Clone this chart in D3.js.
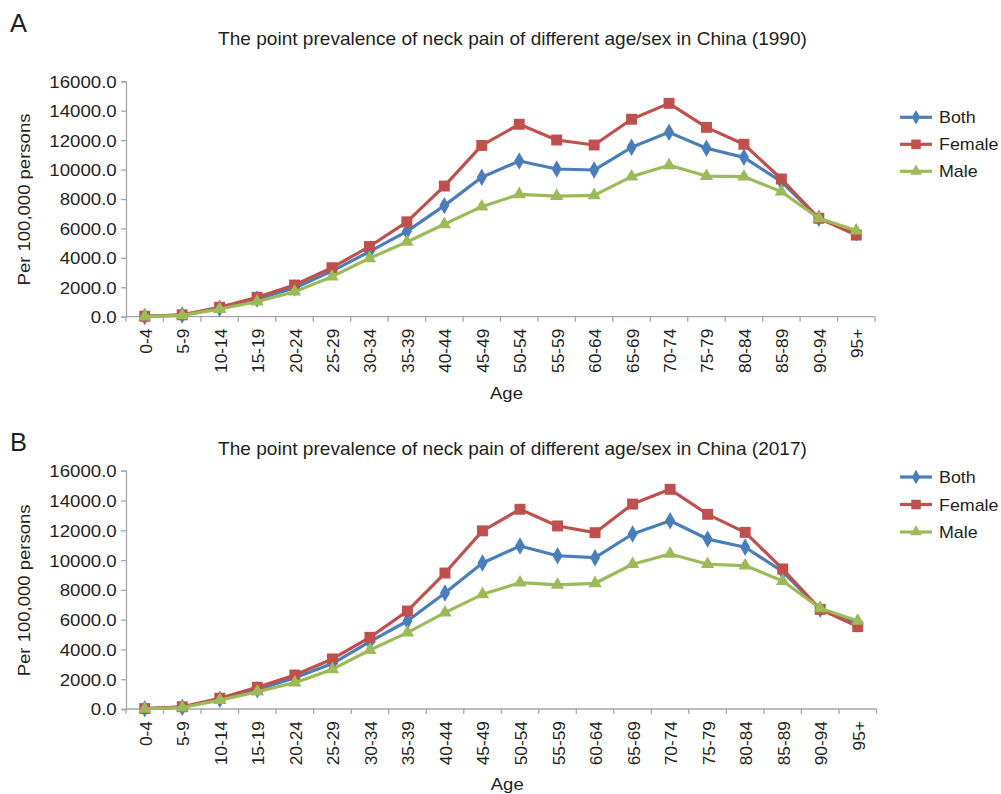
<!DOCTYPE html>
<html>
<head>
<meta charset="utf-8">
<script src="https://cdn.jsdelivr.net/npm/d3@7"></script>
<style>
  html, body { margin: 0; padding: 0; background: #fff; }
  svg text { font-family: "Liberation Sans", Arial, Helvetica, sans-serif; fill: #231f20; }
</style>
</head>
<body>
<svg id="chart" width="1001" height="794"></svg>
<script>
// Age groups (x categories)
const ageGroups = ["0-4","5-9","10-14","15-19","20-24","25-29","30-34","35-39","40-44","45-49",
                   "50-54","55-59","60-64","65-69","70-74","75-79","80-84","85-89","90-94","95+"];

// Point prevalence per 100,000 persons, 1990
const both1990   = [20, 110, 580, 1200, 1950, 3100, 4420, 5800, 7550, 9480, 10580, 10040, 9970, 11510, 12530, 11450, 10830, 9180, 6690, 5710];
const female1990 = [30, 130, 640, 1320, 2150, 3330, 4770, 6450, 8880, 11640, 13080, 12010, 11670, 13420, 14500, 12870, 11720, 9360, 6690, 5550];
const male1990   = [10, 90, 520, 1020, 1700, 2720, 3970, 5080, 6280, 7480, 8320, 8200, 8250, 9520, 10290, 9560, 9520, 8500, 6690, 5850];

// Point prevalence per 100,000 persons, 2017
const both2017   = [20, 120, 650, 1300, 2100, 3050, 4520, 5910, 7790, 9800, 10940, 10290, 10160, 11750, 12640, 11410, 10860, 9220, 6690, 5710];
const female2017 = [30, 150, 720, 1460, 2280, 3360, 4810, 6580, 9130, 11960, 13410, 12290, 11840, 13760, 14750, 13070, 11860, 9400, 6690, 5530];
const male2017   = [10, 100, 600, 1160, 1770, 2660, 3960, 5130, 6470, 7700, 8480, 8330, 8440, 9720, 10410, 9720, 9630, 8590, 6760, 5910];

const yTicks = [0, 2000, 4000, 6000, 8000, 10000, 12000, 14000, 16000];
const seriesNames = ["Both", "Female", "Male"];
const seriesColors = ["#4a7ebb", "#c0504d", "#9bbb59"];
const seriesSymbols = [d3.symbolDiamond, d3.symbolSquare, d3.symbolTriangle];
const symbolSizes = [80, 120, 78];

const svg = d3.select("#chart");
const axisColor = "#a6a6a6";

// text helper: slightly widened glyphs, optional rotation
function addText(g, x, y, str, o) {
  return g.append("text")
    .attr("transform", `translate(${x},${y})${o.rotate ? ` rotate(${o.rotate})` : ""} scale(${o.sx || 1},1)`)
    .attr("text-anchor", o.anchor || "start")
    .style("font-size", o.size + "px")
    .text(str);
}

function drawPanel(opt) {
  const g = svg.append("g");
  const x = d3.scaleBand().domain(ageGroups).range([opt.left, opt.right]);
  const y = d3.scaleLinear().domain([0, 16000]).range([opt.bottom, opt.top]);
  const cx = d => x(d) + x.bandwidth() / 2;

  // panel letter and title
  addText(g, opt.letterX, opt.letterY, opt.letter, { size: 25.5 });
  addText(g, 512.5, opt.titleY, opt.title, { size: 18, sx: 1.06, anchor: "middle" });

  // y axis
  const yAxis = d3.axisLeft(y).tickValues(yTicks).tickSize(5).tickPadding(0)
    .tickFormat(d3.format(".1f"));
  const ya = g.append("g").attr("transform", `translate(${opt.left},0)`).call(yAxis);
  ya.select(".domain").attr("stroke", axisColor).attr("stroke-width", 1.3);
  ya.selectAll(".tick line").attr("stroke", axisColor).attr("stroke-width", 1.3);
  ya.selectAll(".tick text")
    .attr("x", 0).attr("dy", "0.36em")
    .attr("transform", "translate(-9.3,0) scale(1.13,1)")
    .style("font-size", "16.5px").style("font-family", null).attr("fill", "#231f20");

  // x axis with ticks at category boundaries
  const xa = g.append("g").attr("transform", `translate(0,${opt.bottom})`);
  xa.append("line").attr("x1", opt.left).attr("x2", opt.right)
    .attr("stroke", axisColor).attr("stroke-width", 1.3);
  const bounds = ageGroups.map(a => x(a)).concat([opt.right]);
  xa.selectAll("line.tk").data(bounds).join("line").attr("class", "tk")
    .attr("x1", d => d).attr("x2", d => d).attr("y1", 0).attr("y2", 5)
    .attr("stroke", axisColor).attr("stroke-width", 1.3);
  ageGroups.forEach(a => addText(xa, cx(a) + 7, 12, a, { size: 16.5, sx: 1.05, anchor: "end", rotate: -90 }));

  // axis titles
  addText(g, 29.5, (opt.top + opt.bottom) / 2 + 0.5, "Per 100,000 persons", { size: 17, sx: 1.09, anchor: "middle", rotate: -90 });
  addText(g, (opt.left + opt.right) / 2 + 6, opt.xTitleY, "Age", { size: 17, sx: 1.09, anchor: "middle" });

  // series lines and markers
  const line = d3.line().x((d, i) => cx(ageGroups[i])).y(d => y(d));
  opt.series.forEach((vals, si) => {
    g.append("path").datum(vals).attr("d", line).attr("fill", "none")
      .attr("stroke", seriesColors[si]).attr("stroke-width", 3.2).attr("stroke-linejoin", "round");
    g.selectAll(null).data(vals).join("path")
      .attr("d", d3.symbol().type(seriesSymbols[si]).size(symbolSizes[si]))
      .attr("transform", (d, i) => `translate(${cx(ageGroups[i])},${y(d)})${si === 0 ? " scale(1.05,1.05)" : ""}`)
      .attr("fill", seriesColors[si]);
  });

  // legend
  seriesNames.forEach((name, si) => {
    const ly = opt.legendY + si * opt.legendStep;
    g.append("line").attr("x1", 900).attr("x2", 932).attr("y1", ly).attr("y2", ly)
      .attr("stroke", seriesColors[si]).attr("stroke-width", 3.2);
    g.append("path").attr("d", d3.symbol().type(seriesSymbols[si]).size(symbolSizes[si] * 0.75))
      .attr("transform", `translate(916,${ly})`).attr("fill", seriesColors[si]);
    addText(g, 939, ly + 6, name, { size: 17, sx: 1.05 });
  });
}

drawPanel({
  letter: "A", letterX: 10, letterY: 31.7,
  title: "The point prevalence of neck pain of different age/sex in China (1990)", titleY: 45,
  left: 126, right: 875, top: 81.3, bottom: 316.7,
  xTitleY: 399, legendY: 117.3, legendStep: 27,
  series: [both1990, female1990, male1990]
});

drawPanel({
  letter: "B", letterX: 10, letterY: 451,
  title: "The point prevalence of neck pain of different age/sex in China (2017)", titleY: 455,
  left: 126, right: 876.5, top: 470.7, bottom: 709,
  xTitleY: 790, legendY: 477, legendStep: 27.5,
  series: [both2017, female2017, male2017]
});
</script>
</body>
</html>
